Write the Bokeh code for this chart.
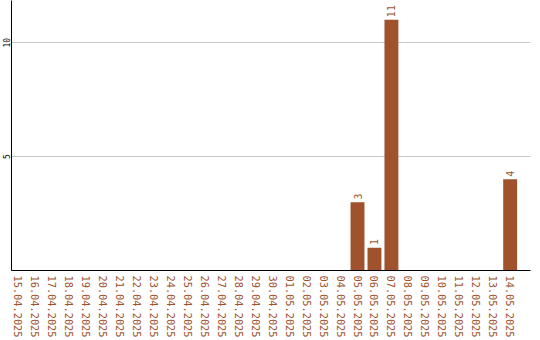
import math
from bokeh.plotting import figure
from bokeh.models import ColumnDataSource, Range1d, FixedTicker
from bokeh.core.properties import value
from bokeh.embed import file_html
from bokeh.resources import INLINE

# Daily counts, 15.04.2025 - 14.05.2025
dates = [
    "15.04.2025", "16.04.2025", "17.04.2025", "18.04.2025", "19.04.2025",
    "20.04.2025", "21.04.2025", "22.04.2025", "23.04.2025", "24.04.2025",
    "25.04.2025", "26.04.2025", "27.04.2025", "28.04.2025", "29.04.2025",
    "30.04.2025", "01.05.2025", "02.05.2025", "03.05.2025", "04.05.2025",
    "05.05.2025", "06.05.2025", "07.05.2025", "08.05.2025", "09.05.2025",
    "10.05.2025", "11.05.2025", "12.05.2025", "13.05.2025", "14.05.2025",
]
counts = [0, 0, 0, 0, 0, 0, 0, 0, 0, 0,
          0, 0, 0, 0, 0, 0, 0, 0, 0, 0,
          3, 1, 11, 0, 0, 0, 0, 0, 0, 4]
y_ticks = [5, 10]

BAR = "#A0522D"
FONT = "DejaVu Sans Mono"

pos = [i + 0.5 for i in range(len(dates))]
src = ColumnDataSource(dict(x=pos, top=counts))
nz = [i for i, c in enumerate(counts) if c > 0]
lab = ColumnDataSource(dict(x=[pos[i] for i in nz],
                            y=[counts[i] + 0.12 for i in nz],
                            t=[str(counts[i]) for i in nz]))

p = figure(width=540, height=340, output_backend="svg", toolbar_location=None,
           x_range=Range1d(0.1, 30.7), y_range=Range1d(0, 11.85),
           min_border_left=10, min_border_right=10, min_border_top=0,
           min_border_bottom=70)
p.outline_line_color = None
p.background_fill_color = "white"
p.border_fill_color = "white"

p.vbar(x="x", top="top", width=0.82, bottom=0, source=src,
       fill_color=BAR, line_color=None)
p.text(x="x", y="y", text="t", source=lab, angle=math.pi / 2,
       text_align="left", text_baseline="middle",
       text_font=value(FONT), text_font_size="10px", text_color=BAR)

# x axis: one label per day, vertical
p.xaxis.ticker = FixedTicker(ticks=pos)
p.xaxis.major_label_overrides = {pos[i]: d for i, d in enumerate(dates)}
p.xaxis.major_label_orientation = "vertical"
p.xaxis.major_label_text_font = FONT
p.xaxis.major_label_text_font_size = "10.3px"
p.xaxis.major_label_text_color = BAR
p.xaxis.major_tick_out = 0
p.xaxis.major_tick_in = 0
p.xaxis.minor_tick_out = 0
p.xaxis.minor_tick_in = 0
p.xaxis.axis_line_color = "black"
p.xaxis.axis_line_width = 1
p.xaxis.major_label_standoff = 5
p.xgrid.grid_line_color = None

# y axis: 5 and 10 only
p.yaxis.ticker = FixedTicker(ticks=y_ticks)
p.yaxis.major_label_orientation = "vertical"
p.yaxis.major_label_text_font = FONT
p.yaxis.major_label_text_font_size = "8px"
p.yaxis.major_label_text_color = "black"
p.yaxis.major_tick_out = 0
p.yaxis.major_tick_in = 0
p.yaxis.minor_tick_out = 0
p.yaxis.minor_tick_in = 0
p.yaxis.axis_line_color = "black"
p.yaxis.axis_line_width = 1
p.yaxis.major_label_standoff = 1
p.ygrid.grid_line_color = "#c8c8c8"
p.ygrid.ticker = FixedTicker(ticks=y_ticks)

open("out.html", "w").write(file_html(p, INLINE))
